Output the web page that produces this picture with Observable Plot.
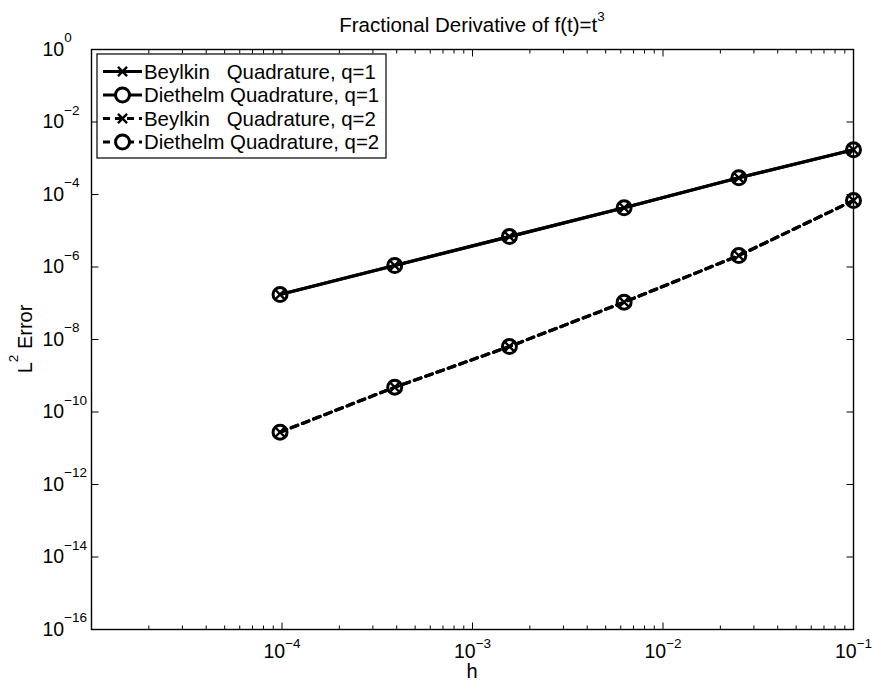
<!DOCTYPE html>
<html><head><meta charset="utf-8">
<script src="https://cdn.jsdelivr.net/npm/d3@7"></script>
<script src="https://cdn.jsdelivr.net/npm/@observablehq/plot@0.6"></script>
<style>
html,body{margin:0;padding:0;background:#fff;}
#chart{width:874px;height:681px;}
svg text{font-family:"Liberation Sans",Arial,Helvetica,sans-serif;}
</style>
</head><body><div id="chart"></div>
<script>
// ---- data ----
const h = [9.765625e-5, 3.90625e-4, 1.5625e-3, 6.25e-3, 2.5e-2, 1e-1];
const beylkinQ1  = [1.74e-7, 1.10e-6, 6.9e-6, 4.3e-5, 2.89e-4, 1.71e-3];
const diethelmQ1 = [1.74e-7, 1.10e-6, 6.9e-6, 4.3e-5, 2.89e-4, 1.71e-3];
const beylkinQ2  = [2.77e-11, 4.83e-10, 6.41e-9, 1.07e-7, 2.07e-6, 6.82e-5];
const diethelmQ2 = [2.77e-11, 4.83e-10, 6.41e-9, 1.07e-7, 2.07e-6, 6.82e-5];
const seriesNames = [
  "Beylkin   Quadrature, q=1",
  "Diethelm Quadrature, q=1",
  "Beylkin   Quadrature, q=2",
  "Diethelm Quadrature, q=2"
];
const xLabelTicks = [1e-4, 1e-3, 1e-2, 1e-1];
const yLabelTicks = [1e0, 1e-2, 1e-4, 1e-6, 1e-8, 1e-10, 1e-12, 1e-14, 1e-16];
const xDomain = [1e-5, 1e-1];
const yDomain = [1e-16, 1e0];
const titleText = "Fractional Derivative of f(t)=t";
const titleSup = "3";
const xTitle = "h";
const yTitleMain = "L", yTitleSup = "2", yTitleRest = " Error";

// ---- styles ----
const seriesStyle = [
  {marker: "times",  dash: null},
  {marker: "circle", dash: null},
  {marker: "times",  dash: "7,5"},
  {marker: "circle", dash: "7,5"}
];
const seriesValues = [beylkinQ1, diethelmQ1, beylkinQ2, diethelmQ2];
const rows = seriesNames.flatMap((name, s) => h.map((x, i) => ({h: x, err: seriesValues[s][i], name})));

const xMinor = d3.scaleLog().domain(xDomain).ticks().filter(v => !xLabelTicks.some(t => Math.abs(t - v) / t < 1e-9) && Math.abs(v - 1e-5) / 1e-5 > 1e-9);

const tickSym = (dx, dy) => ({draw(c) { c.moveTo(0, 0); c.lineTo(dx, dy); }});

const marks = [];
seriesNames.forEach((name, s) => {
  const d = rows.filter(r => r.name === name);
  marks.push(Plot.line(d, {x: "h", y: "err", stroke: "black", strokeWidth: 3.2, strokeDasharray: seriesStyle[s].dash}));
});
seriesNames.forEach((name, s) => {
  const d = rows.filter(r => r.name === name);
  if (seriesStyle[s].marker === "circle")
    marks.push(Plot.dot(d, {x: "h", y: "err", symbol: "circle", r: 7, stroke: "black", strokeWidth: 3, fill: "none"}));
  else
    marks.push(Plot.dot(d, {x: "h", y: "err", symbol: "times", r: 4.2, stroke: "black", strokeWidth: 2.4}));
});
// inward ticks
marks.push(
  Plot.dot(xLabelTicks, {x: d => d, frameAnchor: "bottom", symbol: tickSym(0, -7), stroke: "black", strokeWidth: 1}),
  Plot.dot(xLabelTicks, {x: d => d, frameAnchor: "top", symbol: tickSym(0, 7), stroke: "black", strokeWidth: 1}),
  Plot.dot(xMinor, {x: d => d, frameAnchor: "bottom", symbol: tickSym(0, -4), stroke: "black", strokeWidth: 1}),
  Plot.dot(xMinor, {x: d => d, frameAnchor: "top", symbol: tickSym(0, 4), stroke: "black", strokeWidth: 1}),
  Plot.dot(yLabelTicks, {y: d => d, frameAnchor: "left", symbol: tickSym(7, 0), stroke: "black", strokeWidth: 1}),
  Plot.dot(yLabelTicks, {y: d => d, frameAnchor: "right", symbol: tickSym(-7, 0), stroke: "black", strokeWidth: 1}),
  Plot.frame({stroke: "black", strokeWidth: 1.4}),
  Plot.axisX(xLabelTicks, {anchor: "bottom", tickSize: 0, tickPadding: 15, label: null,
    tickFormat: d => String(Math.round(Math.log10(d))), fontSize: 19.5}),
  Plot.axisY(yLabelTicks, {anchor: "left", tickSize: 0, tickPadding: 49, textAnchor: "start", label: null,
    tickFormat: d => String(Math.round(Math.log10(d))), fontSize: 19.5})
);

const chart = Plot.plot({
  width: 874, height: 681,
  marginLeft: 91, marginRight: 21, marginTop: 49, marginBottom: 52,
  x: {type: "log", domain: xDomain},
  y: {type: "log", domain: yDomain},
  style: {background: "white", fontFamily: "Liberation Sans, Arial, sans-serif", fontSize: "19.5px", color: "black", overflow: "visible"},
  marks
});
document.getElementById("chart").appendChild(chart);

const svg = d3.select(chart);
const powerize = (sel, raise) => sel.each(function () {
  const e = this.textContent.replace("-", "\u2212");
  this.textContent = "";
  const t = d3.select(this);
  t.append("tspan").text("10");
  t.append("tspan").attr("dy", -raise).attr("font-size", 13.5).text(e);
});
powerize(svg.selectAll('g[aria-label="x-axis tick label"] text'), 10);
powerize(svg.selectAll('g[aria-label="y-axis tick label"] text'), 13.5);

const xs = chart.scale("x"), ys = chart.scale("y");
const cx = (xs.range[0] + xs.range[1]) / 2;
const cy = (ys.range[0] + ys.range[1]) / 2;

// title
const tt = svg.append("text").attr("x", cx).attr("y", 32).attr("text-anchor", "middle").attr("font-size", 20.5);
tt.append("tspan").text(titleText);
tt.append("tspan").attr("dy", -11.5).attr("font-size", 13.5).text(titleSup);
// x label
svg.append("text").attr("x", cx).attr("y", 678).attr("text-anchor", "middle").attr("font-size", 20).text(xTitle);
// y label
const yl = svg.append("text").attr("transform", `translate(32,${cy}) rotate(-90)`).attr("text-anchor", "middle").attr("font-size", 20);
yl.append("tspan").text(yTitleMain);
yl.append("tspan").attr("dy", -14).attr("font-size", 13.5).text(yTitleSup);
yl.append("tspan").attr("dy", 14).text(yTitleRest);

// legend
const lg = svg.append("g").attr("text-anchor", "start");
lg.append("rect").attr("x", 97).attr("y", 54).attr("width", 289).attr("height", 104)
  .attr("fill", "white").attr("stroke", "black").attr("stroke-width", 1.2);
const rowY = [71.5, 95, 118.5, 142];
seriesNames.forEach((name, s) => {
  const y = rowY[s];
  lg.append("line").attr("x1", 103).attr("x2", 142).attr("y1", y).attr("y2", y)
    .attr("stroke", "black").attr("stroke-width", 3.2).attr("stroke-dasharray", seriesStyle[s].dash);
  if (seriesStyle[s].marker === "circle")
    lg.append("circle").attr("cx", 122.5).attr("cy", y).attr("r", 7).attr("fill", "white").attr("stroke", "black").attr("stroke-width", 3);
  else
    lg.append("path").attr("transform", `translate(122.5,${y})`).attr("d", d3.symbol(d3.symbolTimes, 4.2 * 4.2 * Math.PI)())
      .attr("stroke", "black").attr("stroke-width", 2.4).attr("fill", "none");
  lg.append("text").attr("x", 144).attr("y", y + 7.3).attr("font-size", 20.4).attr("text-anchor", "start")
    .style("white-space", "pre").text(name);
});
</script>
</body></html>
